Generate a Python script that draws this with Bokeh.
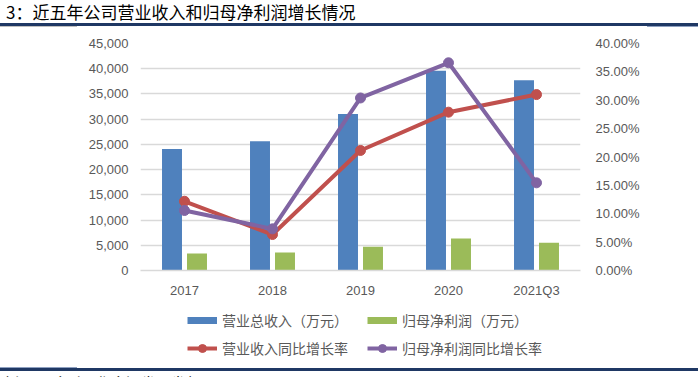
from bokeh.plotting import figure
from bokeh.layouts import column
from bokeh.models import (Range1d, LinearAxis, FixedTicker, NumeralTickFormatter,
                          Legend, LegendItem, ColumnDataSource, Div)
from bokeh.transform import dodge
from bokeh.embed import file_html
from bokeh.resources import INLINE

categories = ["2017", "2018", "2019", "2020", "2021Q3"]
revenue = [24100, 25600, 31000, 39600, 37700]          # 营业总收入（万元）
net_profit = [3370, 3570, 4690, 6340, 5490]            # 归母净利润（万元）
revenue_growth = [0.122, 0.0634, 0.2115, 0.279, 0.310]  # 营业收入同比增长率
profit_growth = [0.1057, 0.0734, 0.304, 0.366, 0.1545]  # 归母净利润同比增长率

left_ticks = [0, 5000, 10000, 15000, 20000, 25000, 30000, 35000, 40000, 45000]
right_ticks = [0, 0.05, 0.10, 0.15, 0.20, 0.25, 0.30, 0.35, 0.40]

series_names = ["营业总收入（万元）", "归母净利润（万元）", "营业收入同比增长率", "归母净利润同比增长率"]
title_text = "3：近五年公司营业收入和归母净利润增长情况"
source_text = "来源：Wind，华鑫证券研发部"

BLUE = "#4F81BD"
GREEN = "#9BBB59"
RED = "#C0504D"
PURPLE = "#8064A2"
GRID = "#D9D9D9"
TXT = "#595959"
NAVY = "#1F3864"
CJK = "Noto Sans CJK SC"
LAT = "Liberation Sans"
W = 698
ML, MR = 140, 118

# ---------- header (title + rule) ----------
header = Div(width=W, height=30, margin=0, text=(
    '<div style="position:relative;width:698px;height:30px;overflow:hidden;">'
    f'<div style="position:absolute;left:6px;top:1px;font-family:\'{CJK}\';font-size:17px;'
    f'line-height:22px;color:#000;white-space:nowrap;">{title_text}</div>'
    f'<div style="position:absolute;left:0;top:23px;width:698px;height:3px;background:{NAVY};"></div>'
    '<div style="position:absolute;left:0;top:26px;width:77px;height:1px;background:#BFBFBF;"></div>'
    '<div style="position:absolute;left:647px;top:26px;width:51px;height:1px;background:#8EA0C0;"></div>'
    '</div>'))

# ---------- main chart ----------
src = ColumnDataSource(dict(cat=categories, rev=revenue, np=net_profit,
                            rg=revenue_growth, pg=profit_growth))

p = figure(width=W, height=270, x_range=categories, y_range=Range1d(0, 45000),
           output_backend="svg", toolbar_location=None,
           min_border_left=ML, min_border_right=MR, min_border_top=13, min_border_bottom=30)
p.extra_y_ranges = {"right": Range1d(0, 0.40)}
p.outline_line_color = None
p.background_fill_color = "white"
p.border_fill_color = "white"

p.yaxis.ticker = FixedTicker(ticks=left_ticks)
p.yaxis.formatter = NumeralTickFormatter(format="0,0")

ra = LinearAxis(y_range_name="right", ticker=FixedTicker(ticks=right_ticks),
                formatter=NumeralTickFormatter(format="0.00%"))
p.add_layout(ra, "right")

for ax, standoff in [(p.yaxis[0], 12), (ra, 15), (p.xaxis[0], 12)]:
    ax.axis_line_color = None
    ax.major_tick_line_color = None
    ax.minor_tick_line_color = None
    ax.major_tick_out = 0
    ax.major_tick_in = 0
    ax.minor_tick_out = 0
    ax.major_label_text_font = LAT
    ax.major_label_text_font_size = "13px"
    ax.major_label_text_color = TXT
    ax.major_label_standoff = standoff
p.xaxis[0].axis_line_color = GRID
p.xaxis[0].axis_line_width = 1.3

p.xgrid.grid_line_color = None
p.ygrid.grid_line_color = GRID
p.ygrid.grid_line_width = 1.3

p.vbar(x=dodge("cat", -0.142, range=p.x_range), top="rev", width=0.227, source=src,
       fill_color=BLUE, line_color=None)
p.vbar(x=dodge("cat", 0.142, range=p.x_range), top="np", width=0.227, source=src,
       fill_color=GREEN, line_color=None)

p.line("cat", "rg", source=src, y_range_name="right", line_color=RED, line_width=4)
p.scatter("cat", "rg", source=src, y_range_name="right", size=10, fill_color=RED, line_color=RED)
p.line("cat", "pg", source=src, y_range_name="right", line_color=PURPLE, line_width=4)
p.scatter("cat", "pg", source=src, y_range_name="right", size=10, fill_color=PURPLE, line_color=PURPLE)

# ---------- legend figure ----------
LH = 66
lg = figure(width=W, height=LH, x_range=Range1d(0, 1), y_range=Range1d(0, 1),
            output_backend="svg", toolbar_location=None,
            min_border_left=ML, min_border_right=MR, min_border_top=0, min_border_bottom=0)
lg.axis.visible = False
lg.grid.visible = False
lg.outline_line_color = None
lg.background_fill_color = "white"
lg.border_fill_color = "white"
nan = float("nan")
bproxy = lg.line(x=[0, 1], y=[nan, nan], line_color=BLUE, line_width=7)
gproxy = lg.line(x=[0, 1], y=[nan, nan], line_color=GREEN, line_width=7)
rl = lg.line(x=[0, 1], y=[nan, nan], line_color=RED, line_width=4)
rs = lg.scatter(x=[0, 1], y=[nan, nan], fill_color=RED, line_color=RED)
pl = lg.line(x=[0, 1], y=[nan, nan], line_color=PURPLE, line_width=4)
ps = lg.scatter(x=[0, 1], y=[nan, nan], fill_color=PURPLE, line_color=PURPLE)

legend = Legend(items=[
    LegendItem(label=series_names[0], renderers=[bproxy], index=0),
    LegendItem(label=series_names[2], renderers=[rl, rs], index=0),
    LegendItem(label=series_names[1], renderers=[gproxy], index=0),
    LegendItem(label=series_names[3], renderers=[pl, ps], index=0),
], ncols=2, location=(187 - ML, LH - 58))
legend.glyph_width = 30
legend.glyph_height = 20
legend.label_height = 20
legend.label_width = 137
legend.label_standoff = 5
legend.spacing = 8
legend.padding = 0
legend.margin = 0
legend.border_line_color = None
legend.background_fill_alpha = 0
legend.label_text_font = CJK
legend.label_text_font_size = "14px"
legend.label_text_color = TXT
lg.add_layout(legend, "center")

# ---------- footer (rule + source) ----------
footer = Div(width=W, height=11, margin=0, text=(
    '<div style="position:relative;width:698px;height:11px;overflow:hidden;">'
    '<div style="position:absolute;left:0;top:0;width:77px;height:1px;background:#8EA0C0;"></div>'
    f'<div style="position:absolute;left:0;top:1px;width:698px;height:2.5px;background:{NAVY};"></div>'
    f'<div style="position:absolute;left:0;top:7px;font-family:\'{CJK}\';font-size:15px;'
    f'line-height:18px;color:#000;white-space:nowrap;">{source_text}</div>'
    '</div>'))

layout = column(header, p, lg, footer, spacing=0)
open("out.html", "w").write(file_html(layout, INLINE))
